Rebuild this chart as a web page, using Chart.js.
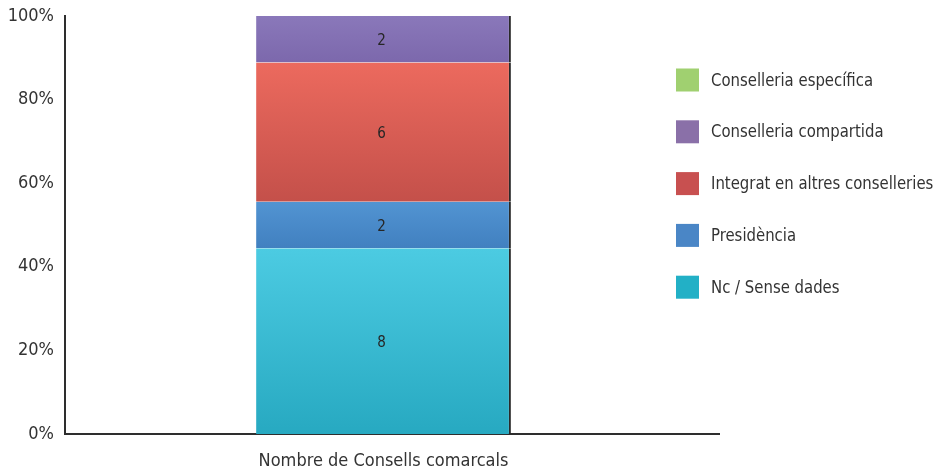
<!DOCTYPE html>
<html>
<head>
<meta charset="utf-8">
<script src="https://cdn.jsdelivr.net/npm/chart.js@4/dist/chart.umd.min.js"></script>
<style>
html,body{margin:0;padding:0;background:#fff;}
#wrap{position:relative;width:940px;height:470px;}
</style>
</head>
<body>
<div id="wrap"><canvas id="c" width="940" height="470"></canvas></div>
<script>
const categories = ['Nombre de Consells comarcals'];
const seriesNames = ['Nc / Sense dades', 'Presidència', 'Integrat en altres conselleries', 'Conselleria compartida', 'Conselleria específica'];
const ncSenseDades = [8];
const presidencia = [2];
const integrat = [6];
const compartida = [2];
const especifica = [0];
const yTickLabels = ['0%', '20%', '40%', '60%', '80%', '100%'];

const FONT = '"Liberation Sans Narrow", "DejaVu Sans Condensed", "Roboto Condensed", sans-serif';
const TEXT = '#333333';

const seriesValues = [ncSenseDades, presidencia, integrat, compartida, especifica];
const totals = categories.map((_, i) => seriesValues.reduce((s, arr) => s + arr[i], 0));
const pct = seriesValues.map(arr => arr.map((v, i) => v / totals[i] * 100));

const barTop = ['#4ccbe2', '#5294d2', '#ec6a5e', '#8a78ba', '#a6d478'];
const barBot = ['#27a9c1', '#4180c0', '#c4504a', '#7c68ac', '#94c466'];
const legendCols = ['#22b0c6', '#4a86c6', '#c85050', '#8a70a8', '#a0d070'];

function gradFor(d) {
  return function (ctx) {
    const chart = ctx.chart;
    const y = chart.scales.y;
    if (!y || !chart.chartArea) return barTop[d];
    let base = 0;
    for (let k = 0; k < d; k++) base += pct[k][ctx.dataIndex || 0];
    const top = base + pct[d][ctx.dataIndex || 0];
    const y0 = y.getPixelForValue(base), y1 = y.getPixelForValue(top);
    if (!isFinite(y0) || !isFinite(y1) || y0 === y1) return barTop[d];
    const g = chart.ctx.createLinearGradient(0, y1, 0, y0);
    g.addColorStop(0, barTop[d]);
    g.addColorStop(1, barBot[d]);
    return g;
  };
}

const datasets = seriesNames.map((name, d) => ({
  label: name,
  data: pct[d],
  raw: seriesValues[d],
  legendColor: legendCols[d],
  backgroundColor: gradFor(d),
  borderColor: '#2a2a2a',
  borderWidth: {top: 0, left: 0, bottom: 0, right: 2},
  borderSkipped: false,
  barPercentage: 0.8,
  categoryPercentage: 0.5
}));

const valueLabels = {
  id: 'valueLabels',
  afterDatasetsDraw(chart) {
    const ctx = chart.ctx;
    ctx.save();
    ctx.font = '15px ' + FONT;
    ctx.fillStyle = '#262626';
    ctx.textAlign = 'center';
    ctx.textBaseline = 'middle';
    chart.data.datasets.forEach((ds, d) => {
      const meta = chart.getDatasetMeta(d);
      meta.data.forEach((el, i) => {
        const v = ds.raw[i];
        if (!v) return;
        const p = el.getCenterPoint();
        ctx.fillText(String(v), p.x - 2, p.y + 2);
      });
    });
    ctx.restore();
  }
};

const sideLegend = {
  id: 'sideLegend',
  afterDraw(chart) {
    const ctx = chart.ctx;
    const a = chart.chartArea;
    const ds = chart.data.datasets.slice().reverse();
    const x0 = a.right - 26, y0 = 80, step = 51.8, box = 23;
    ctx.save();
    ctx.textBaseline = 'middle';
    ctx.textAlign = 'left';
    ds.forEach((d, k) => {
      const cy = y0 + k * step;
      ctx.fillStyle = d.legendColor;
      ctx.fillRect(x0, cy - box / 2, box, box);
      ctx.save();
      ctx.translate(x0 + 35, cy + 1);
      ctx.scale(0.92, 1);
      ctx.font = '18px ' + FONT;
      ctx.fillStyle = TEXT;
      ctx.fillText(d.label, 0, 0);
      ctx.restore();
    });
    // axis line extension to the right
    ctx.strokeStyle = '#2e2e2e';
    ctx.lineWidth = 2;
    ctx.beginPath();
    ctx.moveTo(a.right - 1, a.bottom);
    ctx.lineTo(a.right + 18, a.bottom);
    ctx.stroke();
    ctx.restore();
  }
};

new Chart(document.getElementById('c'), {
  type: 'bar',
  data: { labels: categories, datasets },
  options: {
    responsive: false,
    animation: false,
    layout: { autoPadding: false, padding: { left: 0, right: 238, top: 16, bottom: 0 } },
    plugins: { legend: { display: false }, tooltip: { enabled: false } },
    scales: {
      x: {
        stacked: true,
        grid: { display: false, drawTicks: false },
        border: { display: true, color: '#2e2e2e', width: 2 },
        ticks: { color: TEXT, font: { family: FONT, size: 18 }, padding: 17 },
        afterFit(s) { s.height = 36; }
      },
      y: {
        stacked: true,
        min: 0, max: 100,
        grid: { display: false, drawTicks: false },
        border: { display: true, color: '#2e2e2e', width: 2 },
        ticks: {
          stepSize: 20,
          color: TEXT,
          font: { family: FONT, size: 18, lineHeight: 0.5 },
          padding: 11,
          callback: (v) => yTickLabels[Math.round(v / 20)]
        },
        afterFit(s) { s.width = 65; s.paddingTop = 0; s.paddingBottom = 0; }
      }
    }
  },
  plugins: [valueLabels, sideLegend]
});
</script>
</body>
</html>
